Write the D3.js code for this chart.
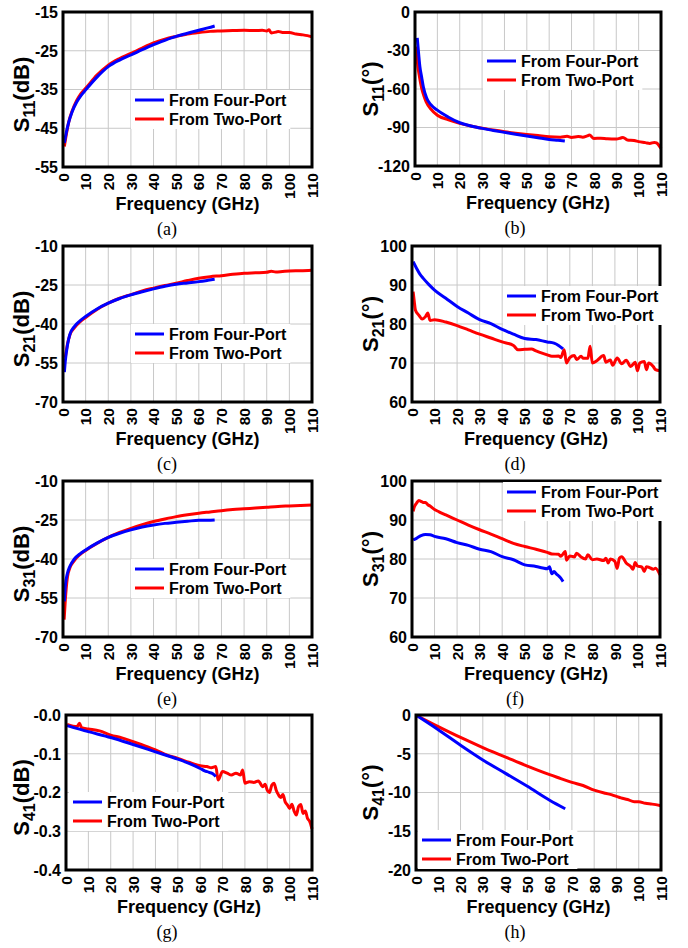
<!DOCTYPE html>
<html>
<head>
<meta charset="utf-8">
<script src="https://cdn.jsdelivr.net/npm/d3@7"></script>
<style>
  body { margin: 0; background: #fff; }
  text { font-family: 'Liberation Sans', Arial, sans-serif; }
</style>
</head>
<body>
<svg id="fig" width="688" height="948"></svg>
<script>
// ---- data: [frequency GHz, value] ----
const freqTicks = [0, 10, 20, 30, 40, 50, 60, 70, 80, 90, 100, 110];

// (a) S11 magnitude (dB)
const s11MagFour = [[0.6,-48.8],[1.5,-46],[2.5,-43.5],[4,-40.8],[6,-38.3],[8,-36.5],[10,-35.1],[15,-31.8],[20,-29.1],[25,-27.4],[30,-26.1],[35,-24.7],[40,-23.4],[45,-22.3],[50,-21.3],[55,-20.5],[60,-19.7],[64,-19.1],[67,-18.6]];
const s11MagTwo = [[0.6,-49.7],[1.5,-46.5],[2.5,-43.5],[4,-40.6],[6,-37.9],[8,-36],[10,-34.7],[15,-31.3],[20,-28.7],[25,-27],[30,-25.7],[35,-24.3],[40,-23],[45,-22],[50,-21.3],[55,-20.7],[60,-20.3],[65,-20.0],[70,-19.9],[75,-19.8],[80,-19.7],[85,-19.8],[88,-19.7],[90,-19.9],[91,-19.6],[92,-20.4],[94,-20.2],[95,-20.0],[97,-20.3],[100,-20.3],[103,-20.7],[106,-20.9],[108,-21.1],[110,-21.4]];

// (b) S11 phase (deg)
const s11PhFour = [[1,-20.2],[1.6,-32],[2.2,-42.8],[3,-51],[3.7,-58],[5.2,-67],[7,-72],[10,-76.5],[15,-82],[20,-86.3],[25,-88.8],[30,-90.7],[35,-92.3],[40,-93.8],[45,-95.3],[50,-96.7],[55,-98],[60,-99.3],[64,-100],[67,-100.6]];
const s11PhTwo = [[0.5,-27],[1,-38],[2,-50.5],[3,-59.6],[4,-65.5],[5,-70],[7,-75.5],[10,-80.4],[15,-84],[20,-86.8],[25,-88.9],[30,-90.5],[35,-92],[40,-93.3],[45,-94.4],[50,-95.4],[55,-96.3],[60,-97.2],[65,-97.5],[68,-96.8],[70,-97.7],[73,-97],[75,-97.5],[77,-96.5],[78,-95.9],[80,-98.5],[83,-98.3],[86,-98.8],[90,-99],[92,-98.2],[93,-97.7],[95,-99.8],[98,-100.2],[100,-101],[103,-101.8],[105,-102.4],[107,-101.6],[108,-102],[109,-103.8],[110,-106.3]];

// (c) S21 magnitude (dB)
const s21MagFour = [[0.6,-58.5],[1,-54.4],[2,-48],[3,-44.1],[5,-41],[7.5,-38.8],[10,-37.1],[15,-34.2],[20,-32],[25,-30.2],[30,-28.8],[35,-27.6],[40,-26.5],[45,-25.5],[50,-24.7],[55,-24.2],[60,-23.7],[64,-23.2],[67,-22.8]];
const s21MagTwo = [[1,-53],[2,-47.6],[3,-44.3],[5,-41.5],[7.5,-39.2],[10,-37.5],[15,-34.4],[20,-32],[25,-30.1],[30,-28.7],[35,-27.3],[40,-26.2],[45,-25.2],[50,-24.3],[55,-23.3],[60,-22.4],[65,-21.8],[70,-21.4],[75,-20.9],[80,-20.5],[85,-20.3],[90,-20.1],[92,-19.7],[94,-20.0],[97,-19.8],[100,-19.6],[105,-19.5],[110,-19.3]];

// (d) S21 phase (deg)
const s21PhFour = [[0.5,96],[2,94.3],[3.5,92.8],[5,91.7],[7.5,90.1],[10,88.7],[15,86.6],[20,84.5],[25,82.8],[30,81.1],[35,80.1],[40,78.6],[45,77.4],[50,76.3],[55,76],[60,75.4],[63,75.1],[65,74.5],[67,73.6]];
const s21PhTwo = [[0.5,88.3],[1,85.8],[1.5,83.6],[3,82.3],[4.5,81.3],[6,81.9],[7,82.8],[8,80.9],[10,81.1],[15,80.5],[20,79.6],[25,78.5],[30,77.4],[35,76.4],[40,75.4],[45,74.5],[47,73.4],[50,73.5],[53,73.6],[55,73.1],[60,72.1],[62,71.7],[65,71.8],[66,71.4],[67.5,73.4],[68.5,70],[70,71.4],[72,71.9],[73,70.9],[75,71.7],[76,71.2],[78,71.2],[79,74.3],[80,70],[82,70.6],[85,71.9],[86,70.2],[88,70.8],[89,69.4],[91,71.3],[93,69.8],[95,70.7],[97,69.1],[99,70.2],[100,68],[101,70],[103,70.4],[104,68.3],[105,70],[107,69.1],[108,68.3],[110,68]];

// (e) S31 magnitude (dB)
const s31MagFour = [[0.6,-56.3],[1,-50.5],[2,-45.4],[3,-42.9],[5,-40],[7.5,-38],[10,-36.5],[15,-33.9],[20,-31.7],[25,-30.1],[30,-28.8],[35,-27.7],[40,-26.9],[45,-26.3],[50,-25.9],[55,-25.5],[60,-25.1],[64,-25.1],[67,-25]];
const s31MagTwo = [[0.5,-63.3],[1,-56],[2,-46.7],[3,-43.5],[5,-40.6],[7.5,-38.3],[10,-36.7],[15,-34],[20,-31.7],[25,-29.8],[30,-28.2],[35,-26.8],[40,-25.6],[45,-24.6],[50,-23.7],[55,-23],[60,-22.4],[65,-21.9],[70,-21.4],[75,-21.0],[80,-20.7],[85,-20.4],[90,-20.1],[95,-19.8],[100,-19.6],[105,-19.4],[110,-19.2]];

// (f) S31 phase (deg)
const s31PhFour = [[0.5,84.9],[2,85.3],[4,86],[6,86.3],[8,86.2],[10,85.8],[15,85.2],[20,84.2],[25,83.5],[30,82.5],[35,81.9],[40,80.6],[45,79.8],[50,78.5],[55,78.1],[58,77.7],[60,77.5],[61,78],[62,76.2],[63,76.8],[64,76.2],[65,75.7],[66,75.1],[67,74.2]];
const s31PhTwo = [[0.5,92.2],[1,93.3],[2,94.3],[3,95],[4,94.8],[5,94.5],[6,94.5],[7,93.9],[8,93.6],[10,92.7],[12,92.1],[15,91.3],[20,90],[25,88.7],[30,87.5],[35,86.4],[40,85.2],[45,84],[50,83.2],[55,82.5],[60,81.7],[62,81.3],[65,81.2],[66,80.7],[67,81.3],[68,81.9],[68.5,79.7],[70,80.8],[72,80.5],[73,81.5],[75,80.5],[77,80],[78,81.1],[80,79.8],[82,80],[85,79.6],[86,80.2],[87,79],[88,80],[90,79.4],[91,77.6],[92,80.2],[93,80.6],[95,79],[97,78.1],[98,77.4],[99,79.1],[100,78.2],[102,77.9],[103,76.8],[104,78],[105,77.9],[107,77.4],[108,77.6],[110,75.9]];

// (g) S41 magnitude (dB)
const s41MagFour = [[0.5,-0.0275],[10,-0.043],[20,-0.058],[30,-0.076],[40,-0.095],[50,-0.114],[55,-0.125],[60,-0.138],[62,-0.144],[64,-0.148],[66,-0.153],[67,-0.159]];
const s41MagTwo = [[0.5,-0.024],[5,-0.030],[6,-0.0215],[7,-0.033],[10,-0.036],[15,-0.041],[20,-0.052],[25,-0.059],[30,-0.069],[35,-0.079],[40,-0.09],[45,-0.103],[50,-0.112],[55,-0.122],[60,-0.131],[63,-0.133],[65,-0.136],[67,-0.133],[68,-0.168],[70,-0.146],[72,-0.150],[74,-0.155],[76,-0.150],[78,-0.155],[79,-0.142],[80,-0.176],[82,-0.172],[84,-0.174],[86,-0.170],[88,-0.185],[89,-0.179],[90,-0.194],[91,-0.2],[92,-0.181],[93,-0.176],[94,-0.194],[95,-0.206],[96,-0.213],[97,-0.205],[98,-0.224],[99,-0.232],[100,-0.241],[101,-0.23],[102,-0.248],[103,-0.258],[104,-0.236],[105,-0.231],[106,-0.254],[107,-0.248],[108,-0.267],[109,-0.275],[110,-0.294]];

// (h) S41 phase (deg)
const s41PhFour = [[0.5,-0.1],[10,-1.9],[20,-3.9],[30,-5.8],[40,-7.5],[50,-9.2],[60,-11],[67,-12.1]];
const s41PhTwo = [[0.5,-0.1],[10,-1.5],[20,-2.9],[30,-4.2],[40,-5.4],[50,-6.6],[60,-7.7],[65,-8.2],[70,-8.7],[75,-9.1],[80,-9.7],[85,-10.1],[88,-10.3],[90,-10.5],[92,-10.7],[95,-10.9],[98,-11.2],[100,-11.2],[103,-11.4],[106,-11.5],[110,-11.7]];

const seriesNames = ['From Four-Port', 'From Two-Port'];
const seriesColors = ['#0000ff', '#ff0000'];

// ---- layout ----
const panels = [
  { cap: '(a)', sub: '11', unit: '(dB)', box: [63, 12, 312, 167], yDomain: [-55, -15], yTicks: [-55, -45, -35, -25, -15], four: s11MagFour, two: s11MagTwo, legend: [135, 100] },
  { cap: '(b)', sub: '11', unit: '(°)', box: [415, 12, 661, 166], yDomain: [-120, 0], yTicks: [-120, -90, -60, -30, 0], four: s11PhFour, two: s11PhTwo, legend: [487, 61] },
  { cap: '(c)', sub: '21', unit: '(dB)', box: [63, 246, 312, 402], yDomain: [-70, -10], yTicks: [-70, -55, -40, -25, -10], four: s21MagFour, two: s21MagTwo, legend: [135, 334] },
  { cap: '(d)', sub: '21', unit: '(°)', box: [412, 246, 660, 402], yDomain: [60, 100], yTicks: [60, 70, 80, 90, 100], four: s21PhFour, two: s21PhTwo, legend: [507, 296] },
  { cap: '(e)', sub: '31', unit: '(dB)', box: [63, 481, 312, 637], yDomain: [-70, -10], yTicks: [-70, -55, -40, -25, -10], four: s31MagFour, two: s31MagTwo, legend: [135, 569] },
  { cap: '(f)', sub: '31', unit: '(°)', box: [412, 481, 660, 637], yDomain: [60, 100], yTicks: [60, 70, 80, 90, 100], four: s31PhFour, two: s31PhTwo, legend: [507, 492] },
  { cap: '(g)', sub: '41', unit: '(dB)', box: [66, 715, 312, 870], yDomain: [-0.4, 0], yTicks: [-0.4, -0.3, -0.2, -0.1, 0], yLabels: ['-0.4', '-0.3', '-0.2', '-0.1', '-0.0'], four: s41MagFour, two: s41MagTwo, legend: [73, 802] },
  { cap: '(h)', sub: '41', unit: '(°)', box: [416, 715, 661, 870], yDomain: [-20, 0], yTicks: [-20, -15, -10, -5, 0], four: s41PhFour, two: s41PhTwo, legend: [422, 840] }
];

const svg = d3.select('#fig');

panels.forEach(function (p, idx) {
  const [x0, y0, x1, y1] = p.box;
  const left = idx % 2 === 0;
  const g = svg.append('g');

  const x = d3.scaleLinear().domain([0, 110]).range([x0, x1]);
  const y = d3.scaleLinear().domain(p.yDomain).range([y1, y0]);

  // grid
  g.selectAll('.vgrid').data(freqTicks).enter().append('line')
    .attr('x1', d => x(d)).attr('x2', d => x(d))
    .attr('y1', y0).attr('y2', y1)
    .attr('stroke', '#c8c8c8').attr('stroke-width', 1);
  g.selectAll('.hgrid').data(p.yTicks).enter().append('line')
    .attr('x1', x0).attr('x2', x1)
    .attr('y1', d => y(d)).attr('y2', d => y(d))
    .attr('stroke', '#c8c8c8').attr('stroke-width', 1);

  // curves (two-port first, four-port on top)
  const line = d3.line().x(d => x(d[0])).y(d => y(d[1])).curve(d3.curveMonotoneX);
  [p.two, p.four].forEach(function (s, i) {
    g.append('path').datum(s)
      .attr('d', line)
      .attr('fill', 'none')
      .attr('stroke', i === 0 ? seriesColors[1] : seriesColors[0])
      .attr('stroke-width', 3)
      .attr('stroke-linejoin', 'round');
  });

  // frame
  g.append('rect')
    .attr('x', x0).attr('y', y0)
    .attr('width', x1 - x0).attr('height', y1 - y0)
    .attr('fill', 'none').attr('stroke', '#000').attr('stroke-width', 3);

  // y tick labels
  g.selectAll('.ylab').data(p.yTicks).enter().append('text')
    .attr('x', x0 - 5).attr('y', d => y(d))
    .attr('dy', '0.36em')
    .attr('text-anchor', 'end')
    .style('font-size', '16px').style('font-weight', 'bold')
    .text((d, i) => p.yLabels ? p.yLabels[i] : String(d));

  // x tick labels (rotated)
  g.selectAll('.xlab').data(freqTicks).enter().append('text')
    .attr('transform', d => 'translate(' + x(d) + ',' + (y1 + 6) + ') rotate(-90)')
    .attr('dy', '0.36em')
    .attr('text-anchor', 'end')
    .style('font-size', '15.5px').style('font-weight', 'bold')
    .text(d => d);

  // x axis title
  g.append('text')
    .attr('x', (x0 + x1) / 2).attr('y', y1 + 43)
    .attr('text-anchor', 'middle')
    .style('font-size', '18px').style('font-weight', 'bold')
    .text('Frequency (GHz)');

  // y axis title (fixed column position)
  const isDb = p.unit === '(dB)';
  const yt = g.append('text')
    .attr('transform', 'translate(' + (left ? 29 : 378) + ',' + ((y0 + y1) / 2 + (isDb ? 5 : 0)) + ') rotate(-90)')
    .attr('text-anchor', 'middle')
    .style('font-size', '22px').style('font-weight', 'bold');
  yt.append('tspan').text('S');
  yt.append('tspan').attr('dy', 6).style('font-size', '16px').text(p.sub);
  yt.append('tspan').attr('dy', -6).text(p.unit);

  // legend
  const [lx, ly] = p.legend;
  const lg = g.append('g');
  const bg = lg.append('rect').attr('fill', '#fff');
  let maxW = 0;
  seriesNames.forEach(function (name, i) {
    const yy = ly + i * 19;
    lg.append('line')
      .attr('x1', lx).attr('x2', lx + 29)
      .attr('y1', yy).attr('y2', yy)
      .attr('stroke', seriesColors[i]).attr('stroke-width', 3);
    const t = lg.append('text')
      .attr('x', lx + 34).attr('y', yy)
      .attr('dy', '0.36em')
      .style('font-size', '16px').style('font-weight', 'bold')
      .text(name);
    maxW = Math.max(maxW, t.node().getComputedTextLength());
  });
  bg.attr('x', lx - 4).attr('y', ly - 10)
    .attr('width', 34 + maxW + 8).attr('height', 19 + 20);

  // caption
  g.append('text')
    .attr('x', left ? 167 : 515).attr('y', y1 + 68)
    .attr('text-anchor', 'middle')
    .style('font-family', "'Liberation Serif', 'Times New Roman', serif")
    .style('font-size', '18px')
    .text(p.cap);
});
</script>
</body>
</html>
